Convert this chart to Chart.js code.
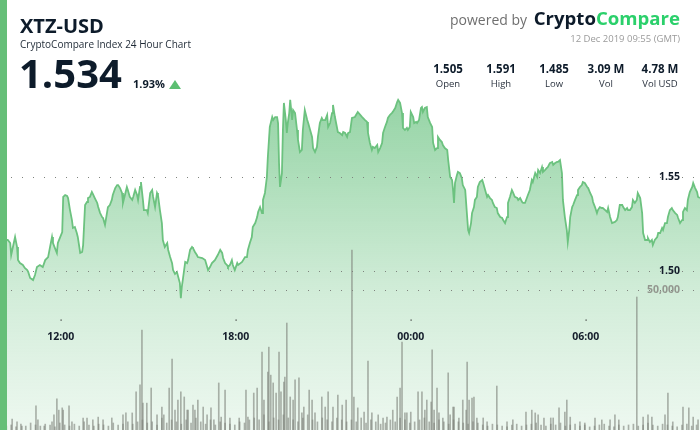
<!DOCTYPE html>
<html>
<head>
<meta charset="utf-8">
<title>XTZ-USD</title>
<script src="https://cdn.jsdelivr.net/npm/chart.js@4.4.0/dist/chart.umd.min.js"></script>
<style>
  html, body { margin: 0; padding: 0; background: #fff; }
  body { width: 700px; height: 430px; position: relative; overflow: hidden; font-family: "Open Sans", sans-serif; color: #0d1b2a; }
  #chart { position: absolute; left: 0; top: 0; }
  .bar { position: absolute; left: 0; top: 0; width: 7px; height: 430px; background: #66bf78; }
  .t { position: absolute; line-height: 1; white-space: nowrap; }
  .title { left: 20px; top: 16px; font-size: 20px; font-weight: 700; }
  .sub { left: 20px; top: 38.5px; font-size: 10px; color: #1f2a36; }
  .price { left: 19px; top: 52.5px; font-size: 40px; font-weight: 700; }
  .change { left: 133px; top: 77.5px; font-size: 11px; font-weight: 700; }
  .tri { position: absolute; left: 169px; top: 80px; width: 12px; height: 9px; background: #5cbf72; clip-path: polygon(50% 0, 100% 100%, 0 100%); }
  .powered { right: 20px; top: 9px; font-size: 14px; color: #6f6f6f; }
  .powered b { font-size: 18.6px; color: #0d1b2a; margin-left: 3px; }
  .powered b span { color: #2bd06b; }
  .date { right: 20px; top: 33.5px; font-size: 9.5px; color: #9b9b9b; }
  .stat { position: absolute; width: 70px; text-align: center; line-height: 1; }
  .stat .v { display: block; font-size: 11.5px; font-weight: 700; margin-top: 0; }
  .stat .l { display: block; font-size: 9.5px; color: #2c3440; margin-top: 4.5px; }
</style>
</head>
<body>
<canvas id="chart" width="700" height="430"></canvas>
<div class="bar"></div>
<div class="t title">XTZ-USD</div>
<div class="t sub">CryptoCompare Index 24 Hour Chart</div>
<div class="t price">1.534</div>
<div class="t change">1.93%</div>
<div class="tri"></div>
<div class="t powered">powered by <b>Crypto<span>Compare</span></b></div>
<div class="t date">12 Dec 2019 09:55 (GMT)</div>
<div id="stats"></div>
<script>
// header figures
const statLabels = ["Open", "High", "Low", "Vol", "Vol USD"]
const statValues = ["1.505", "1.591", "1.485", "3.09 M", "4.78 M"]
const statCenters = [448, 501, 554, 606, 660]

// minutes since 11 Dec 09:55 GMT
const priceMinutes = [
  0, 16, 21, 23, 31, 35, 37, 41, 47, 51, 56, 58, 62, 68, 72, 76, 82, 88, 93, 99,
  103, 107, 109, 113, 117, 119, 123, 128, 130, 134, 138, 140, 144, 148, 150, 154, 158, 160, 165, 169,
  171, 175, 179, 181, 185, 189, 191, 195, 200, 202, 206, 210, 212, 216, 220, 222, 226, 230, 232, 237,
  241, 243, 247, 251, 253, 257, 261, 263, 267, 272, 274, 278, 282, 284, 288, 290, 294, 296, 302, 304,
  309, 313, 315, 319, 323, 325, 329, 333, 335, 339, 344, 346, 350, 354, 356, 360, 364, 370, 372, 374,
  376, 381, 385, 387, 391, 395, 397, 401, 405, 407, 416, 422, 428, 432, 436, 442, 448, 453, 457, 459,
  463, 467, 469, 473, 477, 479, 483, 488, 490, 498, 504, 508, 510, 514, 518, 520, 525, 529, 531, 535,
  539, 541, 545, 549, 551, 555, 560, 562, 566, 570, 572, 574, 576, 580, 582, 584, 588, 590, 592, 595,
  597, 601, 603, 607, 611, 613, 617, 621, 623, 627, 632, 634, 638, 642, 644, 648, 652, 654, 658, 662,
  664, 669, 673, 675, 679, 683, 685, 689, 693, 695, 699, 704, 706, 710, 714, 716, 720, 724, 730, 736,
  745, 751, 755, 757, 761, 765, 767, 771, 776, 778, 782, 786, 788, 792, 796, 798, 802, 806, 808, 813,
  817, 819, 823, 827, 829, 833, 837, 839, 843, 845, 850, 852, 856, 858, 862, 866, 868, 870, 874, 878,
  880, 885, 889, 891, 895, 899, 901, 905, 909, 911, 915, 920, 922, 926, 930, 932, 934, 936, 940, 942,
  946, 950, 952, 957, 961, 963, 965, 969, 971, 975, 977, 981, 983, 987, 992, 994, 998, 1002, 1004, 1008,
  1012, 1014, 1018, 1022, 1024, 1029, 1033, 1035, 1039, 1043, 1045, 1049, 1053, 1055, 1059, 1064, 1066, 1070, 1074, 1076,
  1080, 1086, 1090, 1094, 1096, 1101, 1105, 1107, 1111, 1115, 1117, 1121, 1125, 1127, 1131, 1136, 1138, 1142, 1146, 1148,
  1152, 1156, 1158, 1162, 1166, 1168, 1171, 1173, 1177, 1179, 1183, 1187, 1189, 1193, 1197, 1199, 1203, 1208, 1210, 1214,
  1218, 1220, 1224, 1228, 1230, 1234, 1238, 1240, 1245, 1249, 1251, 1255, 1259, 1261, 1265, 1269, 1271, 1275, 1280, 1282,
  1286, 1290, 1292, 1296, 1300, 1302, 1306, 1310, 1312, 1317, 1321, 1323, 1327, 1331, 1333, 1337, 1341, 1343, 1347, 1352,
  1354, 1358, 1362, 1364, 1368, 1372, 1374, 1378, 1382, 1384, 1389, 1393, 1395, 1399, 1403, 1405, 1409, 1413, 1415, 1419,
  1424, 1426, 1430, 1434, 1436, 1440
]
const priceValues = [
  1.5165, 1.5165, 1.5149, 1.5085, 1.5181, 1.5128, 1.5058, 1.5042, 1.5032, 1.5016, 1.5005, 1.4995, 1.4963, 1.4952, 1.4979, 1.5021, 1.5032, 1.5021, 1.5058, 1.5074,
  1.5128, 1.5181, 1.5149, 1.5122, 1.5096, 1.5149, 1.5175, 1.5207, 1.5394, 1.5404, 1.5399, 1.5388, 1.5324, 1.5271, 1.5229, 1.5234, 1.5202, 1.5181, 1.5096, 1.5101,
  1.5138, 1.5351, 1.5367, 1.5388, 1.5394, 1.5420, 1.5410, 1.5388, 1.5362, 1.5340, 1.5308, 1.5287, 1.5282, 1.5245, 1.5308, 1.5340, 1.5351, 1.5378, 1.5404, 1.5441,
  1.5457, 1.5457, 1.5441, 1.5415, 1.5362, 1.5404, 1.5447, 1.5431, 1.5394, 1.5378, 1.5394, 1.5431, 1.5404, 1.5378, 1.5447, 1.5473, 1.5378, 1.5324, 1.5324, 1.5308,
  1.5415, 1.5431, 1.5394, 1.5340, 1.5415, 1.5404, 1.5324, 1.5255, 1.5165, 1.5128, 1.5149, 1.5112, 1.5074, 1.5042, 1.5005, 1.4984, 1.4995, 1.4936, 1.4856, 1.4915,
  1.4952, 1.5048, 1.5042, 1.5058, 1.5112, 1.5128, 1.5122, 1.5101, 1.5085, 1.5074, 1.5069, 1.5058, 1.5005, 1.5021, 1.5042, 1.5058, 1.5085, 1.5112, 1.5096, 1.5069,
  1.5042, 1.5032, 1.5021, 1.5032, 1.5058, 1.5032, 1.5005, 1.5042, 1.5032, 1.5048, 1.5074, 1.5074, 1.5112, 1.5149, 1.5181, 1.5234, 1.5255, 1.5287, 1.5314, 1.5340,
  1.5308, 1.5378, 1.5415, 1.5500, 1.5606, 1.5766, 1.5819, 1.5803, 1.5819, 1.5819, 1.5787, 1.5574, 1.5447, 1.5521, 1.5750, 1.5894, 1.5803, 1.5734, 1.5787, 1.5840,
  1.5910, 1.5803, 1.5856, 1.5840, 1.5750, 1.5697, 1.5633, 1.5644, 1.5750, 1.5856, 1.5803, 1.5787, 1.5750, 1.5713, 1.5654, 1.5633, 1.5660, 1.5713, 1.5787, 1.5814,
  1.5803, 1.5803, 1.5830, 1.5766, 1.5787, 1.5840, 1.5883, 1.5819, 1.5766, 1.5739, 1.5734, 1.5723, 1.5739, 1.5734, 1.5713, 1.5734, 1.5739, 1.5814, 1.5819, 1.5846,
  1.5819, 1.5803, 1.5793, 1.5734, 1.5681, 1.5644, 1.5660, 1.5654, 1.5670, 1.5633, 1.5654, 1.5681, 1.5734, 1.5766, 1.5793, 1.5814, 1.5830, 1.5840, 1.5846, 1.5867,
  1.5899, 1.5910, 1.5894, 1.5840, 1.5761, 1.5750, 1.5761, 1.5750, 1.5766, 1.5846, 1.5819, 1.5787, 1.5793, 1.5787, 1.5803, 1.5867, 1.5872, 1.5846, 1.5867, 1.5872,
  1.5819, 1.5787, 1.5766, 1.5681, 1.5644, 1.5654, 1.5713, 1.5697, 1.5686, 1.5670, 1.5654, 1.5644, 1.5590, 1.5500, 1.5484, 1.5431, 1.5362, 1.5468, 1.5511, 1.5527,
  1.5521, 1.5495, 1.5457, 1.5431, 1.5287, 1.5218, 1.5202, 1.5255, 1.5308, 1.5340, 1.5378, 1.5394, 1.5447, 1.5473, 1.5484, 1.5468, 1.5431, 1.5394, 1.5404, 1.5388,
  1.5378, 1.5362, 1.5340, 1.5335, 1.5308, 1.5287, 1.5282, 1.5271, 1.5255, 1.5287, 1.5362, 1.5394, 1.5431, 1.5420, 1.5394, 1.5388, 1.5378, 1.5388, 1.5367, 1.5362,
  1.5362, 1.5404, 1.5431, 1.5484, 1.5473, 1.5521, 1.5500, 1.5537, 1.5521, 1.5553, 1.5527, 1.5537, 1.5548, 1.5553, 1.5574, 1.5580, 1.5564, 1.5574, 1.5580, 1.5580,
  1.5590, 1.5521, 1.5378, 1.5287, 1.5218, 1.5154, 1.5218, 1.5287, 1.5340, 1.5351, 1.5378, 1.5404, 1.5431, 1.5447, 1.5457, 1.5473, 1.5468, 1.5447, 1.5441, 1.5415,
  1.5394, 1.5367, 1.5340, 1.5308, 1.5324, 1.5340, 1.5335, 1.5335, 1.5324, 1.5314, 1.5335, 1.5287, 1.5255, 1.5255, 1.5261, 1.5271, 1.5287, 1.5351, 1.5351, 1.5340,
  1.5324, 1.5335, 1.5324, 1.5324, 1.5340, 1.5378, 1.5362, 1.5378, 1.5415, 1.5388, 1.5308, 1.5202, 1.5165, 1.5165, 1.5175, 1.5154, 1.5165, 1.5138, 1.5165, 1.5181,
  1.5202, 1.5202, 1.5229, 1.5218, 1.5255, 1.5255, 1.5287, 1.5324, 1.5335, 1.5324, 1.5308, 1.5298, 1.5282, 1.5255, 1.5271, 1.5314, 1.5335, 1.5324, 1.5378, 1.5420,
  1.5447, 1.5468, 1.5441, 1.5420, 1.5394, 1.5388
]

// minute volume spikes
const volumeMinutes = [
  25, 35, 45, 74, 78, 91, 107, 111, 117, 121, 128, 130, 142, 148, 171, 179, 191, 202, 212, 230,
  253, 259, 272, 280, 288, 292, 294, 302, 311, 323, 333, 337, 348, 354, 360, 366, 372, 379, 385, 387,
  397, 401, 407, 418, 426, 434, 440, 450, 455, 463, 473, 492, 506, 510, 522, 529, 539, 543, 551, 553,
  557, 562, 568, 574, 578, 584, 586, 590, 597, 603, 607, 615, 621, 625, 636, 642, 648, 662, 669, 675,
  685, 695, 704, 712, 724, 728, 736, 749, 757, 765, 778, 788, 796, 808, 817, 823, 827, 833, 837, 845,
  860, 868, 874, 878, 887, 889, 893, 899, 903, 911, 922, 926, 932, 934, 944, 952, 959, 961, 965, 971,
  975, 981, 994, 1002, 1022, 1043, 1055, 1082, 1094, 1101, 1107, 1119, 1133, 1138, 1150, 1162, 1166, 1173, 1193, 1203,
  1224, 1238, 1255, 1265, 1273, 1310, 1323, 1333, 1341, 1368, 1374, 1384, 1405, 1417, 1426, 1436
]
const volumeValues = [
  3900, 2900, 1400, 8600, 3600, 1400, 2900, 5400, 11100, 7100, 7900, 7100, 8600, 2900, 4300, 4300, 3600, 4600, 3600, 4300,
  5400, 6100, 6100, 13600, 16100, 35700, 9600, 9600, 15000, 5400, 8200, 5400, 15000, 25300, 7100, 10700, 13600, 11800, 7100, 7100,
  8900, 7100, 10700, 8200, 5400, 7900, 3600, 16800, 4600, 14300, 4300, 4300, 14300, 4600, 13200, 15000, 27800, 10700, 20700, 29600,
  19600, 16800, 13200, 27800, 13600, 17100, 18900, 38200, 11800, 10700, 17900, 18600, 6100, 8200, 14300, 10700, 6100, 11800, 8200, 13600,
  8200, 12500, 8900, 10700, 64300, 11800, 7900, 6400, 24600, 6100, 5400, 4300, 4600, 7100, 11800, 15000, 31400, 6100, 6100, 6400,
  13600, 13600, 7100, 10700, 10000, 28600, 7100, 15000, 6100, 4300, 20400, 5400, 8200, 8200, 4300, 10700, 7100, 24300, 10700, 11400,
  11800, 4300, 4300, 2900, 15700, 2900, 3600, 6400, 7100, 6100, 5400, 4300, 4300, 4300, 7900, 6400, 10700, 4600, 2900, 2500,
  4300, 3600, 3600, 5400, 3600, 47500, 4600, 5400, 4600, 5400, 13200, 2900, 8200, 7900, 4600, 3600
]
// the quieter minutes in between
const quietMinutes = [
  13, 23, 33, 43, 53, 63, 73, 83, 93, 103, 113, 123, 133, 143, 153, 163, 173, 183, 193, 203,
  213, 223, 233, 243, 253, 263, 273, 283, 293, 303, 313, 323, 333, 343, 353, 363, 373, 383, 393, 403,
  413, 423, 433, 443, 453, 463, 473, 483, 493, 503, 513, 523, 533, 543, 553, 563, 573, 583, 593, 603,
  613, 623, 633, 643, 653, 663, 673, 683, 693, 703, 713, 723, 733, 743, 753, 763, 773, 783, 793, 803,
  813, 823, 833, 843, 853, 863, 873, 883, 893, 903, 913, 923, 933, 943, 953, 963, 973, 983, 993, 1003,
  1013, 1023, 1033, 1043, 1053, 1063, 1073, 1083, 1093, 1103, 1113, 1123, 1133, 1143, 1153, 1163, 1173, 1183, 1193, 1203,
  1213, 1223, 1233, 1243, 1253, 1263, 1273, 1283, 1293, 1303, 1313, 1323, 1333, 1343, 1353, 1363, 1373, 1383, 1393, 1403,
  1413, 1423, 1433
]
const quietVolumes = [
  1400, 1800, 1100, 2100, 1400, 2500, 1800, 1400, 2100, 1800, 1100, 2500, 1800, 1400, 2100, 1400, 2900, 1800, 1400, 2100,
  1800, 1400, 2500, 1800, 2100, 2900, 2100, 2900, 3600, 2500, 2900, 1800, 4300, 2500, 3600, 2900, 2100, 3600, 2500, 4300,
  2900, 2100, 3600, 1800, 2900, 2500, 2100, 1800, 2900, 2500, 3600, 4300, 3600, 5400, 2900, 4300, 3600, 5400, 4300, 3600,
  2900, 4300, 5400, 3600, 2900, 4300, 3600, 2900, 4300, 3600, 2900, 3600, 2900, 4300, 2500, 3600, 2900, 2100, 2500, 3600,
  2900, 4300, 3600, 2500, 2900, 3600, 4300, 2900, 2500, 3600, 2900, 2100, 3600, 2900, 2500, 2100, 2900, 2500, 1800, 1400,
  2100, 1800, 1400, 1100, 1800, 2100, 1400, 1800, 2100, 2500, 1800, 1400, 2100, 1800, 2500, 1400, 1800, 2100, 1400, 1800,
  1100, 1400, 1800, 2100, 1400, 1100, 1800, 1400, 1800, 2100, 1400, 1800, 2500, 1800, 1400, 2100, 1800, 1400, 1100, 1800,
  2100, 1400, 1800
]

const timeTickMinutes = [125, 485, 845, 1205]
const timeTickLabels = ["12:00", "18:00", "00:00", "06:00"]
const priceTicks = [1.50, 1.55]
const volumeTicks = [50000]

// header stats
const statsEl = document.getElementById("stats")
statLabels.forEach((l, i) => {
  const d = document.createElement("div")
  d.className = "stat"
  d.style.left = (statCenters[i] - 35) + "px"
  d.style.top = "62.8px"
  d.innerHTML = `<span class="v">${statValues[i]}</span><span class="l">${l}</span>`
  statsEl.appendChild(d)
})

const overlay = {
  id: "overlay",
  afterDatasetsDraw(chart) {
    const { ctx, chartArea: a, scales } = chart
    ctx.save()
    // dotted grid
    ctx.strokeStyle = "#7e837d"
    ctx.lineWidth = 1
    ctx.setLineDash([1, 10])
    const ys = priceTicks.map(v => scales.yPrice.getPixelForValue(v))
      .concat(volumeTicks.map(v => scales.yVol.getPixelForValue(v)))
    ys.forEach(y => {
      const yy = Math.round(y) + 0.5
      ctx.beginPath()
      ctx.moveTo(a.left, yy)
      ctx.lineTo(a.right, yy)
      ctx.stroke()
    })
    ctx.setLineDash([])

    ctx.textAlign = "right"
    ctx.textBaseline = "middle"
    ctx.font = "bold 10.5px 'Open Sans'"
    ctx.fillStyle = "#141d2b"
    priceTicks.forEach(v => {
      ctx.fillText(v.toFixed(2), a.right - 20, scales.yPrice.getPixelForValue(v))
    })
    ctx.fillStyle = "#93978f"
    volumeTicks.forEach(v => {
      ctx.fillText(v.toLocaleString("en-US"), a.right - 20, scales.yVol.getPixelForValue(v))
    })

    // time axis
    ctx.textAlign = "center"
    ctx.font = "bold 10.5px 'Open Sans'"
    timeTickMinutes.forEach((m, i) => {
      const x = scales.x.getPixelForValue(m)
      ctx.fillStyle = "#333"
      ctx.fillRect(Math.round(x) - 0.5, 319.5, 1.2, 1.2)
      ctx.fillStyle = "#141d2b"
      ctx.fillText(timeTickLabels[i], x, 337)
    })
    ctx.restore()
  }
}

const volumePoints = volumeMinutes.map((m, i) => ({ x: m, y: volumeValues[i] }))
  .concat(quietMinutes.map((m, i) => ({ x: m, y: quietVolumes[i] })))
  .sort((p, q) => p.x - q.x)

new Chart(document.getElementById("chart"), {
  data: {
    datasets: [
      {
        type: "line",
        label: "Price",
        data: priceMinutes.map((m, i) => ({ x: m, y: priceValues[i] })),
        yAxisID: "yPrice",
        borderColor: "#6cc27f",
        borderWidth: 1.8,
        pointRadius: 0,
        tension: 0,
        fill: "start",
        order: 2,
        backgroundColor(c) {
          const chart = c.chart
          if (!chart.chartArea) return "rgba(120,200,140,0.3)"
          const top = chart.scales.yPrice.getPixelForValue(1.59)
          const g = chart.ctx.createLinearGradient(0, top, 0, chart.chartArea.bottom)
          g.addColorStop(0, "rgba(110,196,132,0.72)")
          g.addColorStop(0.6, "rgba(110,196,132,0.3)")
          g.addColorStop(1, "rgba(110,196,132,0.12)")
          return g
        }
      },
      {
        type: "bar",
        label: "Volume",
        data: volumePoints,
        yAxisID: "yVol",
        backgroundColor: "rgba(128,133,125,0.62)",
        barThickness: 1,
        order: 1
      }
    ]
  },
  options: {
    responsive: false,
    animation: false,
    events: [],
    layout: { padding: 0 },
    plugins: { legend: { display: false }, tooltip: { enabled: false } },
    scales: {
      x: { type: "linear", min: 0, max: 1440, offset: false, display: false },
      yPrice: { type: "linear", min: 1.415426, max: 1.644149, display: false },
      yVol: { type: "linear", min: 0, max: 153571, display: false }
    }
  },
  plugins: [overlay]
})
</script>
</body>
</html>
